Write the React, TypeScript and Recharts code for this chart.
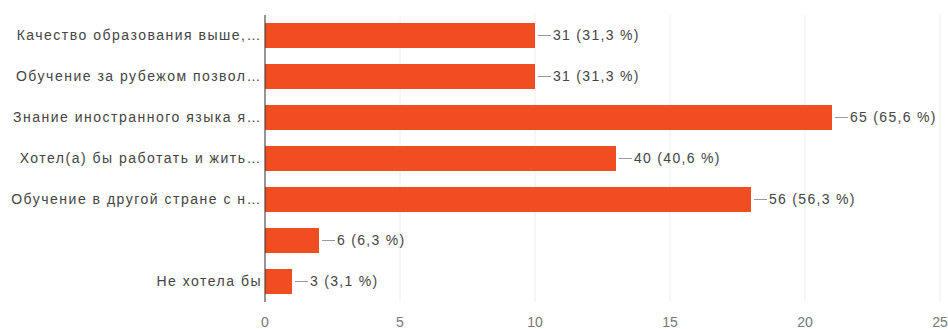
import { BarChart, Bar, XAxis, YAxis, CartesianGrid, LabelList } from "recharts";

const categories = [
    "Качество образования выше,…",
    "Обучение за рубежом позвол…",
    "Знание иностранного языка я…",
    "Хотел(а) бы работать и жить…",
    "Обучение в другой стране с н…",
    "",
    "Не хотела бы",
];
const barValues = [10, 10, 21, 13, 18, 2, 1];
const valueLabels = [
    "31 (31,3 %)",
    "31 (31,3 %)",
    "65 (65,6 %)",
    "40 (40,6 %)",
    "56 (56,3 %)",
    "6 (6,3 %)",
    "3 (3,1 %)",
];
const xTicks = [0, 5, 10, 15, 20, 25];

const data = categories.map((name, i) => ({ name, value: barValues[i] }));

const FONT = "Liberation Sans, Arial, sans-serif";

function ValueLabel(props: any) {
    const { x, y, width, height, index } = props;
    const endX = x + width;
    const cy = y + height / 2;
    return (
        <g>
            <line x1={endX + 3} y1={cy} x2={endX + 16} y2={cy} stroke="#999" strokeWidth={1} />
            <text
                x={endX + 18}
                y={cy}
                dy="0.35em"
                fill="#444"
                fontSize={14}
                fontFamily={FONT}
                letterSpacing={1.3}
            >
                {valueLabels[index]}
            </text>
        </g>
    );
}

export default function App() {
    return (
        <div style={{ position: "fixed", top: 0, left: 0, background: "#fff" }}>
            <BarChart
                width={948}
                height={329}
                data={data}
                layout="vertical"
                margin={{ top: 15, right: 8, left: 0, bottom: 0 }}
                barSize={25}
            >
                <CartesianGrid horizontal={false} stroke="#eeeeee" />
                <XAxis
                    type="number"
                    domain={[0, 25]}
                    ticks={xTicks}
                    axisLine={false}
                    tickLine={false}
                    tickSize={0}
                    tickMargin={15}
                    height={27}
                    tick={{ fill: "#777", fontSize: 14, fontFamily: FONT }}
                />
                <YAxis
                    type="category"
                    dataKey="name"
                    width={265}
                    axisLine={{ stroke: "#333", strokeWidth: 1 }}
                    tickLine={false}
                    tickSize={0}
                    tickMargin={3}
                    interval={0}
                    tick={{ fill: "#444", fontSize: 14, fontFamily: FONT, letterSpacing: 1.5 }}
                />
                <Bar dataKey="value" fill="#f04e20" isAnimationActive={false}>
                    <LabelList dataKey="value" content={<ValueLabel />} />
                </Bar>
            </BarChart>
        </div>
    );
}
